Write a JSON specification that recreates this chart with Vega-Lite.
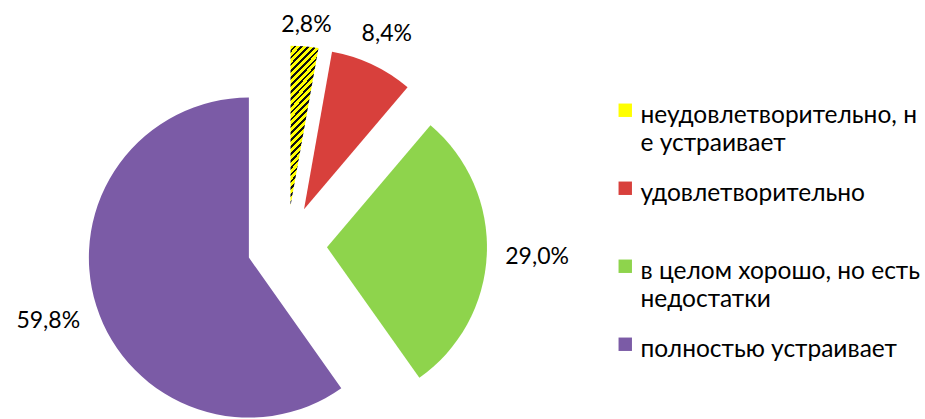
{
  "$schema": "https://vega.github.io/schema/vega-lite/v6.json",
  "width": 574,
  "height": 347,
  "autosize": {"type": "none"},
  "padding": {"left": 0, "top": 72, "right": 351, "bottom": 0},
  "background": "white",
  "config": {"view": {"stroke": null}, "font": "Lato"},
  "data": {
    "values": [
      {"cat": "неудовлетворительно, не устраивает", "value": 2.8, "order": 1, "label": "2,8%"},
      {"cat": "удовлетворительно", "value": 8.4, "order": 2, "label": "8,4%"},
      {"cat": "в целом хорошо, но есть недостатки", "value": 29.0, "order": 3, "label": "29,0%"},
      {"cat": "полностью устраивает", "value": 59.8, "order": 4, "label": "59,8%"}
    ]
  },
  "transform": [
    {"stack": "value", "groupby": [], "sort": [{"field": "order", "order": "ascending"}], "as": ["v0", "v1"]}
  ],
  "layer": [
    {
      "mark": {
        "type": "arc",
        "outerRadius": 160,
        "xOffset": {"expr": "40*sin(PI*(datum.v0+datum.v1)/100)"},
        "yOffset": {"expr": "-40*cos(PI*(datum.v0+datum.v1)/100)"}
      },
      "encoding": {
        "theta": {"field": "v0", "type": "quantitative", "scale": {"domain": [0, 100]}},
        "theta2": {"field": "v1"},
        "color": {
          "condition": {
            "test": "datum.order === 1",
            "value": {
              "gradient": "linear", "x1": 0, "y1": 0, "x2": 0.18, "y2": 1,
              "stops": [
                {"offset": 0, "color": "#FFFF00"}, {"offset": 0.025, "color": "#FFFF00"}, {"offset": 0.025, "color": "#111111"}, {"offset": 0.04167, "color": "#111111"},
                {"offset": 0.04167, "color": "#FFFF00"}, {"offset": 0.06667, "color": "#FFFF00"}, {"offset": 0.06667, "color": "#111111"}, {"offset": 0.08333, "color": "#111111"},
                {"offset": 0.08333, "color": "#FFFF00"}, {"offset": 0.10833, "color": "#FFFF00"}, {"offset": 0.10833, "color": "#111111"}, {"offset": 0.125, "color": "#111111"},
                {"offset": 0.125, "color": "#FFFF00"}, {"offset": 0.15, "color": "#FFFF00"}, {"offset": 0.15, "color": "#111111"}, {"offset": 0.16667, "color": "#111111"},
                {"offset": 0.16667, "color": "#FFFF00"}, {"offset": 0.19167, "color": "#FFFF00"}, {"offset": 0.19167, "color": "#111111"}, {"offset": 0.20833, "color": "#111111"},
                {"offset": 0.20833, "color": "#FFFF00"}, {"offset": 0.23333, "color": "#FFFF00"}, {"offset": 0.23333, "color": "#111111"}, {"offset": 0.25, "color": "#111111"},
                {"offset": 0.25, "color": "#FFFF00"}, {"offset": 0.275, "color": "#FFFF00"}, {"offset": 0.275, "color": "#111111"}, {"offset": 0.29167, "color": "#111111"},
                {"offset": 0.29167, "color": "#FFFF00"}, {"offset": 0.31667, "color": "#FFFF00"}, {"offset": 0.31667, "color": "#111111"}, {"offset": 0.33333, "color": "#111111"},
                {"offset": 0.33333, "color": "#FFFF00"}, {"offset": 0.35833, "color": "#FFFF00"}, {"offset": 0.35833, "color": "#111111"}, {"offset": 0.375, "color": "#111111"},
                {"offset": 0.375, "color": "#FFFF00"}, {"offset": 0.4, "color": "#FFFF00"}, {"offset": 0.4, "color": "#111111"}, {"offset": 0.41667, "color": "#111111"},
                {"offset": 0.41667, "color": "#FFFF00"}, {"offset": 0.44167, "color": "#FFFF00"}, {"offset": 0.44167, "color": "#111111"}, {"offset": 0.45833, "color": "#111111"},
                {"offset": 0.45833, "color": "#FFFF00"}, {"offset": 0.48333, "color": "#FFFF00"}, {"offset": 0.48333, "color": "#111111"}, {"offset": 0.5, "color": "#111111"},
                {"offset": 0.5, "color": "#FFFF00"}, {"offset": 0.525, "color": "#FFFF00"}, {"offset": 0.525, "color": "#111111"}, {"offset": 0.54167, "color": "#111111"},
                {"offset": 0.54167, "color": "#FFFF00"}, {"offset": 0.56667, "color": "#FFFF00"}, {"offset": 0.56667, "color": "#111111"}, {"offset": 0.58333, "color": "#111111"},
                {"offset": 0.58333, "color": "#FFFF00"}, {"offset": 0.60833, "color": "#FFFF00"}, {"offset": 0.60833, "color": "#111111"}, {"offset": 0.625, "color": "#111111"},
                {"offset": 0.625, "color": "#FFFF00"}, {"offset": 0.65, "color": "#FFFF00"}, {"offset": 0.65, "color": "#111111"}, {"offset": 0.66667, "color": "#111111"},
                {"offset": 0.66667, "color": "#FFFF00"}, {"offset": 0.69167, "color": "#FFFF00"}, {"offset": 0.69167, "color": "#111111"}, {"offset": 0.70833, "color": "#111111"},
                {"offset": 0.70833, "color": "#FFFF00"}, {"offset": 0.73333, "color": "#FFFF00"}, {"offset": 0.73333, "color": "#111111"}, {"offset": 0.75, "color": "#111111"},
                {"offset": 0.75, "color": "#FFFF00"}, {"offset": 0.775, "color": "#FFFF00"}, {"offset": 0.775, "color": "#111111"}, {"offset": 0.79167, "color": "#111111"},
                {"offset": 0.79167, "color": "#FFFF00"}, {"offset": 0.81667, "color": "#FFFF00"}, {"offset": 0.81667, "color": "#111111"}, {"offset": 0.83333, "color": "#111111"},
                {"offset": 0.83333, "color": "#FFFF00"}, {"offset": 0.85833, "color": "#FFFF00"}, {"offset": 0.85833, "color": "#111111"}, {"offset": 0.875, "color": "#111111"},
                {"offset": 0.875, "color": "#FFFF00"}, {"offset": 0.9, "color": "#FFFF00"}, {"offset": 0.9, "color": "#111111"}, {"offset": 0.91667, "color": "#111111"},
                {"offset": 0.91667, "color": "#FFFF00"}, {"offset": 0.94167, "color": "#FFFF00"}, {"offset": 0.94167, "color": "#111111"}, {"offset": 0.95833, "color": "#111111"},
                {"offset": 0.95833, "color": "#FFFF00"}, {"offset": 0.98333, "color": "#FFFF00"}, {"offset": 0.98333, "color": "#111111"}, {"offset": 1, "color": "#111111"}
              ]
            }
          },
          "field": "cat",
          "type": "nominal",
          "sort": null,
          "scale": {
            "domain": ["неудовлетворительно, не устраивает", "удовлетворительно", "в целом хорошо, но есть недостатки", "полностью устраивает"],
            "range": ["#FFFF00", "#D8403C", "#8ED44C", "#7B5BA6"]
          },
          "legend": {
            "orient": "none",
            "legendX": 613,
            "legendY": 26,
            "title": null,
            "symbolType": "square",
            "symbolSize": 180,
            "symbolStrokeWidth": 0,
            "labelFont": "Lato",
            "labelFontSize": 24.5,
            "labelColor": "#000000",
            "labelLimit": 400,
            "labelOffset": 3,
            "rowPadding": 20,
            "gridAlign": "all",
            "labelExpr": "datum.label === 'неудовлетворительно, не устраивает' ? ['неудовлетворительно, н', 'е устраивает'] : datum.label === 'в целом хорошо, но есть недостатки' ? ['в целом хорошо, но есть', 'недостатки'] : datum.label",
            "encode": {
              "labels": {"update": {"lineHeight": {"value": 28}, "dy": {"value": 6}}}
            }
          }
        }
      }
    },
    {
      "mark": {
        "type": "text",
        "radius": {"expr": "170 + 40*abs(sin(PI*(datum.v0+datum.v1)/100)) + 8*abs(cos(PI*(datum.v0+datum.v1)/100))"},
        "font": "Lato",
        "fontSize": 23,
        "color": "#000000",
        "xOffset": {"expr": "40*sin(PI*(datum.v0+datum.v1)/100)"},
        "yOffset": {"expr": "-40*cos(PI*(datum.v0+datum.v1)/100)"}
      },
      "encoding": {
        "theta": {"field": "value", "type": "quantitative", "stack": true, "scale": {"domain": [0, 100]}},
        "order": {"field": "order", "type": "quantitative", "sort": "ascending"},
        "text": {"field": "label", "type": "nominal"}
      }
    }
  ]
}
